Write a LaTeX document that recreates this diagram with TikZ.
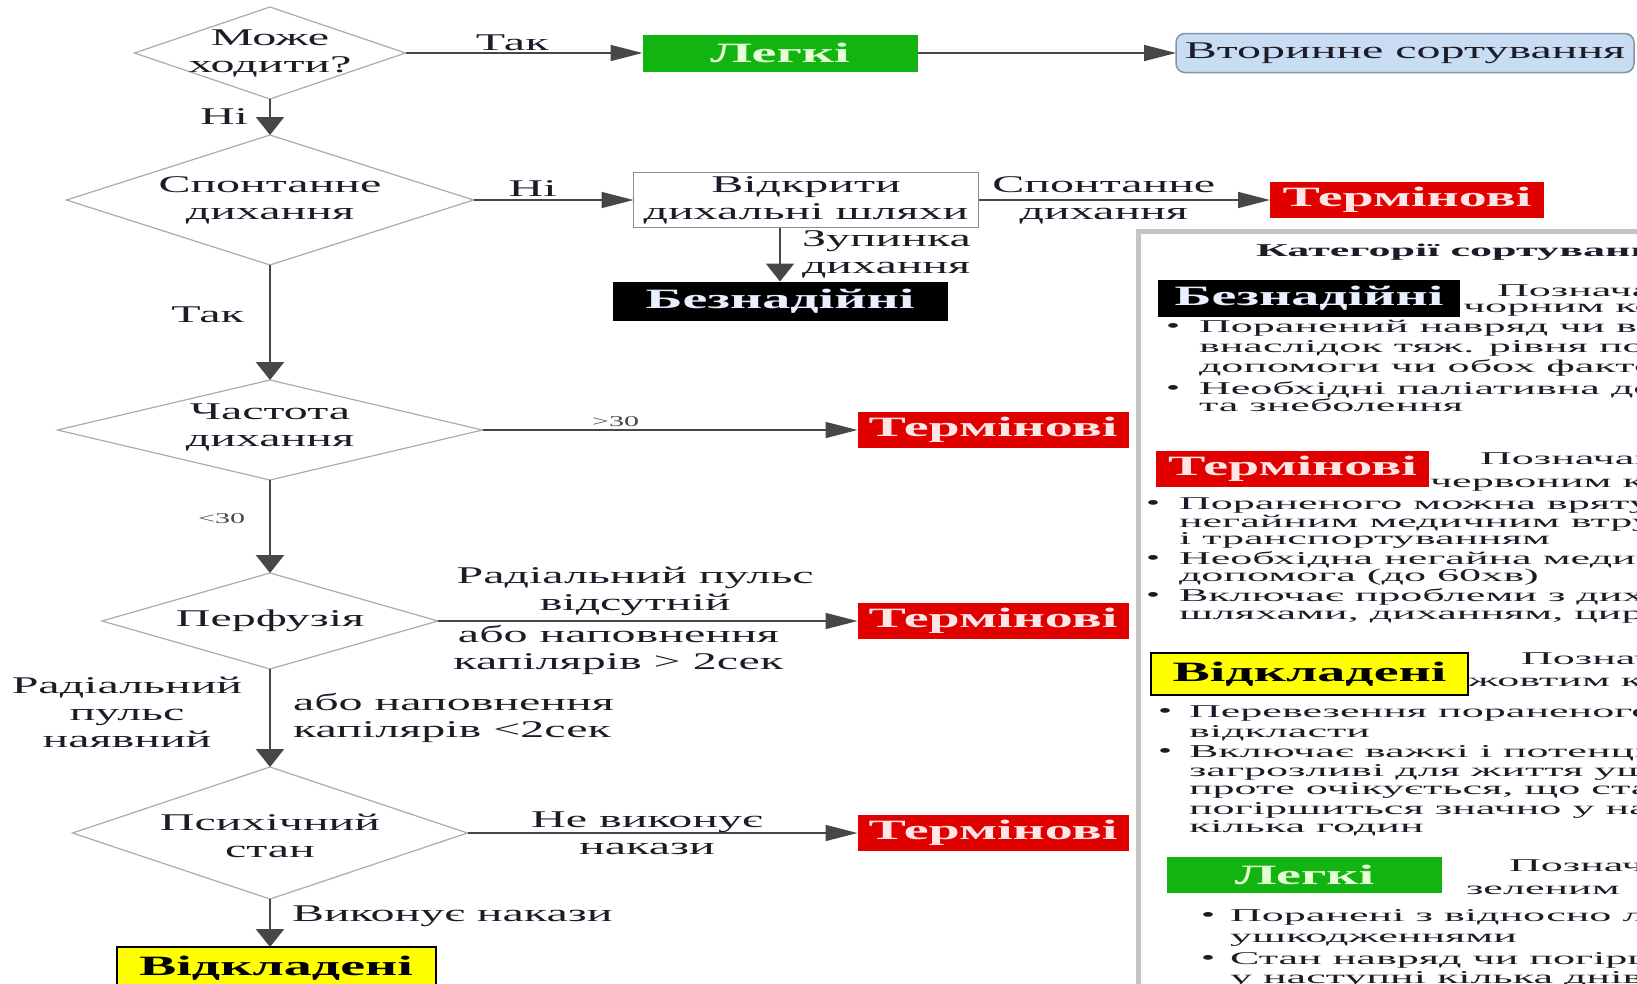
\documentclass[tikz,border=0pt]{standalone}
\usepackage{fontspec}
\setmainfont{Liberation Serif}[FakeStretch=2]
\newfontfamily\legfont{Liberation Serif}[FakeStretch=2.45]
\usetikzlibrary{shapes.geometric,arrows.meta}
\definecolor{txt}{HTML}{1C1C28}
\definecolor{lnc}{HTML}{474747}
\definecolor{dgr}{HTML}{ABABAB}
\definecolor{gfill}{HTML}{12B412}
\definecolor{gtxt}{HTML}{E6FFD6}
\definecolor{rfill}{HTML}{E00000}
\definecolor{rtxt}{HTML}{FFE6E6}
\definecolor{btxt}{HTML}{E8F0FF}
\definecolor{bfill}{HTML}{C8DCF4}
\definecolor{bdraw}{HTML}{8293A8}
\definecolor{yfill}{HTML}{FFFF00}
\definecolor{legb}{HTML}{C4C4C4}
\definecolor{boxd}{HTML}{8C8C8C}
\begin{document}
\begin{tikzpicture}[x=1pt,y=-1pt,
  every node/.style={text=txt, inner sep=0pt, outer sep=0pt},
  dia/.style 2 args={diamond, draw=dgr, line width=1.2pt, minimum width=#1, minimum height=#2},
  dtxt/.style={font=\fontsize{24}{27}\selectfont, align=center, text=txt},
  elab/.style={font=\fontsize{24}{27}\selectfont, align=center},
  small/.style={font=\fontsize{15}{15}\selectfont, text=lnc},
  bx/.style 2 args={minimum width=#1, minimum height=#2, font=\fontsize{28}{30}\selectfont\bfseries},
  gbox/.style={fill=gfill, text=gtxt},
  rbox/.style={fill=rfill, text=rtxt},
  kbox/.style={fill=black, text=btxt},
  ybox/.style={fill=yfill, draw=black, line width=2pt, text=black},
  vl/.style={draw=lnc, line width=2.4pt, -{Triangle[length=18pt,width=28pt]}},
  hl/.style={draw=lnc, line width=1.5pt, -{Triangle[length=32pt,width=16pt]}},
  lt/.style={font=\legfont\fontsize{18}{18}\selectfont, anchor=west, text height=12.5pt, text depth=3.5pt},
  lbul/.style={font=\fontsize{20}{20}\selectfont, anchor=west, text height=12.5pt, text depth=3.5pt},
  ltitle/.style={font=\legfont\fontsize{18}{18}\selectfont\bfseries, anchor=west, text height=12pt, text depth=3pt},
]
\useasboundingbox (0,0) rectangle (1637,983);
\clip (0,0) rectangle (1637,983);

% ---------- flow nodes ----------
\node[dia={271}{92}, label={[dtxt]center:Може\\ходити?}] (d1) at (270,53) {};
\node[dia={407}{130}, label={[dtxt]center:Спонтанне\\дихання}] (d2) at (270,200) {};
\node[dia={425}{100}, label={[dtxt, yshift=3pt]center:Частота\\дихання}] (d3) at (270,430) {};
\node[dia={336}{96}, label={[dtxt]center:Перфузія}] (d4) at (270,621) {};
\node[dia={395}{132}, label={[dtxt, yshift=-3pt]center:Психічний\\стан}] (d5) at (270,833) {};

\node[bx={275}{37}, gbox] (legki1) at (780,53) {Легкі};
\node[minimum width=458, minimum height=39, rounded corners=9pt, fill=bfill, draw=bdraw, line width=1.5pt,
      font=\fontsize{24}{26}\selectfont] (vtor) at (1405,53) {Вторинне сортування};
\node[minimum width=345, minimum height=55, draw=boxd, line width=1.5pt, fill=white,
      font=\fontsize{24}{27}\selectfont, align=center] (vidkr) at (806,200) {Відкрити\\дихальні шляхи};
\node[bx={274}{36}, rbox] (term1) at (1407,200) {Термінові};
\node[bx={335}{39}, kbox] (bez1) at (780,301) {Безнадійні};
\node[bx={271}{36}, rbox] (term2) at (993,430) {Термінові};
\node[bx={271}{36}, rbox] (term3) at (993,621) {Термінові};
\node[bx={271}{36}, rbox] (term4) at (993,833) {Термінові};
\node[bx={319}{42}, ybox] (vidk) at (276,968) {Відкладені};

% ---------- connectors ----------
\draw[hl] (d1) -- node[pos=.45, above=2pt, elab]{Так} (legki1);
\draw[hl] (legki1) -- (vtor);
\draw[vl] (d1) -- node[pos=.5, left=22pt, elab]{Ні} (d2);
\draw[hl] (d2) -- node[pos=.37, above=4pt, elab]{Ні} (vidkr);
\draw[hl] (vidkr) -- node[pos=.43, elab]{Спонтанне\\дихання} (term1);
\draw[vl] (vidkr.south -| bez1.north) -- node[pos=.5, right=22pt, elab, align=left]{Зупинка\\дихання} (bez1.north);
\draw[vl] (d2) -- node[pos=.43, left=26pt, elab]{Так} (d3);
\draw[hl] (d3) -- node[pos=.355, above=3pt, small]{>30} (term2);
\draw[vl] (d3) -- node[pos=.41, left=25pt, small]{<30} (d4);
\draw[hl] (d4) -- node[pos=.47, above=5pt, elab]{Радіальний пульс\\відсутній}
                  node[pos=.43, below=4pt, elab]{або наповнення\\капілярів > 2сек} (term3);
\draw[vl] (d4) -- node[pos=.44, xshift=-143pt, elab]{Радіальний\\пульс\\наявний}
                  node[pos=.5, anchor=west, xshift=23pt, elab, align=left]{або наповнення\\капілярів <2сек} (d5);
\draw[hl] (d5) -- node[pos=.46, elab]{Не виконує\\накази} (term4);
\draw[vl] (d5.south) -- node[pos=.36, anchor=west, xshift=22pt, elab]{Виконує накази} (d5.south |- vidk.north);

% ---------- legend ----------
\draw[legb, line width=5pt] (1138.5,990) -- (1138.5,231.5) -- (1645,231.5);
\node[ltitle] (lt0) at (1256,252) {Категорії сортування};

\node[bx={302}{37}, kbox] (bezL) at (1309,298.5) {Безнадійні};
\node[lt] (a1) at (1497,292) {Позначаються};
\node[lt] (a2) at (1463,308) {чорним кольором};
\node[lbul] (ab1) at (1166,328) {•};
\node[lt] (a3) at (1199,328) {Поранений навряд чи виживе};
\node[lt] (a4) at (1199,348) {внаслідок тяж. рівня пошкоджень};
\node[lt] (a5) at (1199,368) {допомоги чи обох факторів};
\node[lbul] (ab2) at (1166,390) {•};
\node[lt] (a6) at (1199,390) {Необхідні паліативна допомога};
\node[lt] (a7) at (1199,407) {та знеболення};

\node[bx={273}{36}, rbox] (termL) at (1292.5,469) {Термінові};
\node[lt] (b1) at (1480,460) {Позначаються};
\node[lt] (b2) at (1430,483) {червоним кольором};
\node[lbul] (bb1) at (1146,505) {•};
\node[lt] (b3) at (1179,505) {Пораненого можна врятувати};
\node[lt] (b4) at (1179,523) {негайним медичним втручанням};
\node[lt] (b5) at (1179,540) {і транспортуванням};
\node[lbul] (bb2) at (1146,560) {•};
\node[lt] (b6) at (1179,560) {Необхідна негайна медична};
\node[lt] (b7) at (1179,577) {допомога (до 60хв)};
\node[lbul] (bb3) at (1146,597) {•};
\node[lt] (b8) at (1179,597) {Включає проблеми з дихальними};
\node[lt] (b9) at (1179,615) {шляхами, диханням, циркуляцією};

\node[bx={317}{42}, ybox] (vidkL) at (1309.5,674) {Відкладені};
\node[lt] (c1) at (1521,660) {Позначаються};
\node[lt] (c2) at (1468,682) {жовтим кольором};
\node[lbul] (cb1) at (1158,713) {•};
\node[lt] (c3) at (1189,713) {Перевезення пораненого можна};
\node[lt] (c4) at (1189,733) {відкласти};
\node[lbul] (cb2) at (1158,753) {•};
\node[lt] (c5) at (1189,753) {Включає важкі і потенційно};
\node[lt] (c6) at (1189,772) {загрозливі для життя ушкодження,};
\node[lt] (c7) at (1189,790) {проте очікується, що стан не};
\node[lt] (c8) at (1189,810) {погіршиться значно у найближчі};
\node[lt] (c9) at (1189,828) {кілька годин};

\node[bx={275}{36}, gbox] (legkiL) at (1304.5,875) {Легкі};
\node[lt] (e1) at (1509,867) {Позначаються};
\node[lt] (e2) at (1466,890) {зеленим};
\node[lbul] (eb1) at (1201,917) {•};
\node[lt] (e3) at (1230,917) {Поранені з відносно легкими};
\node[lt] (e4) at (1230,938) {ушкодженнями};
\node[lbul] (eb2) at (1201,960) {•};
\node[lt] (e5) at (1230,960) {Стан навряд чи погіршиться};
\node[lt] (e6) at (1230,979) {у наступні кілька днів};
\end{tikzpicture}
\end{document}
